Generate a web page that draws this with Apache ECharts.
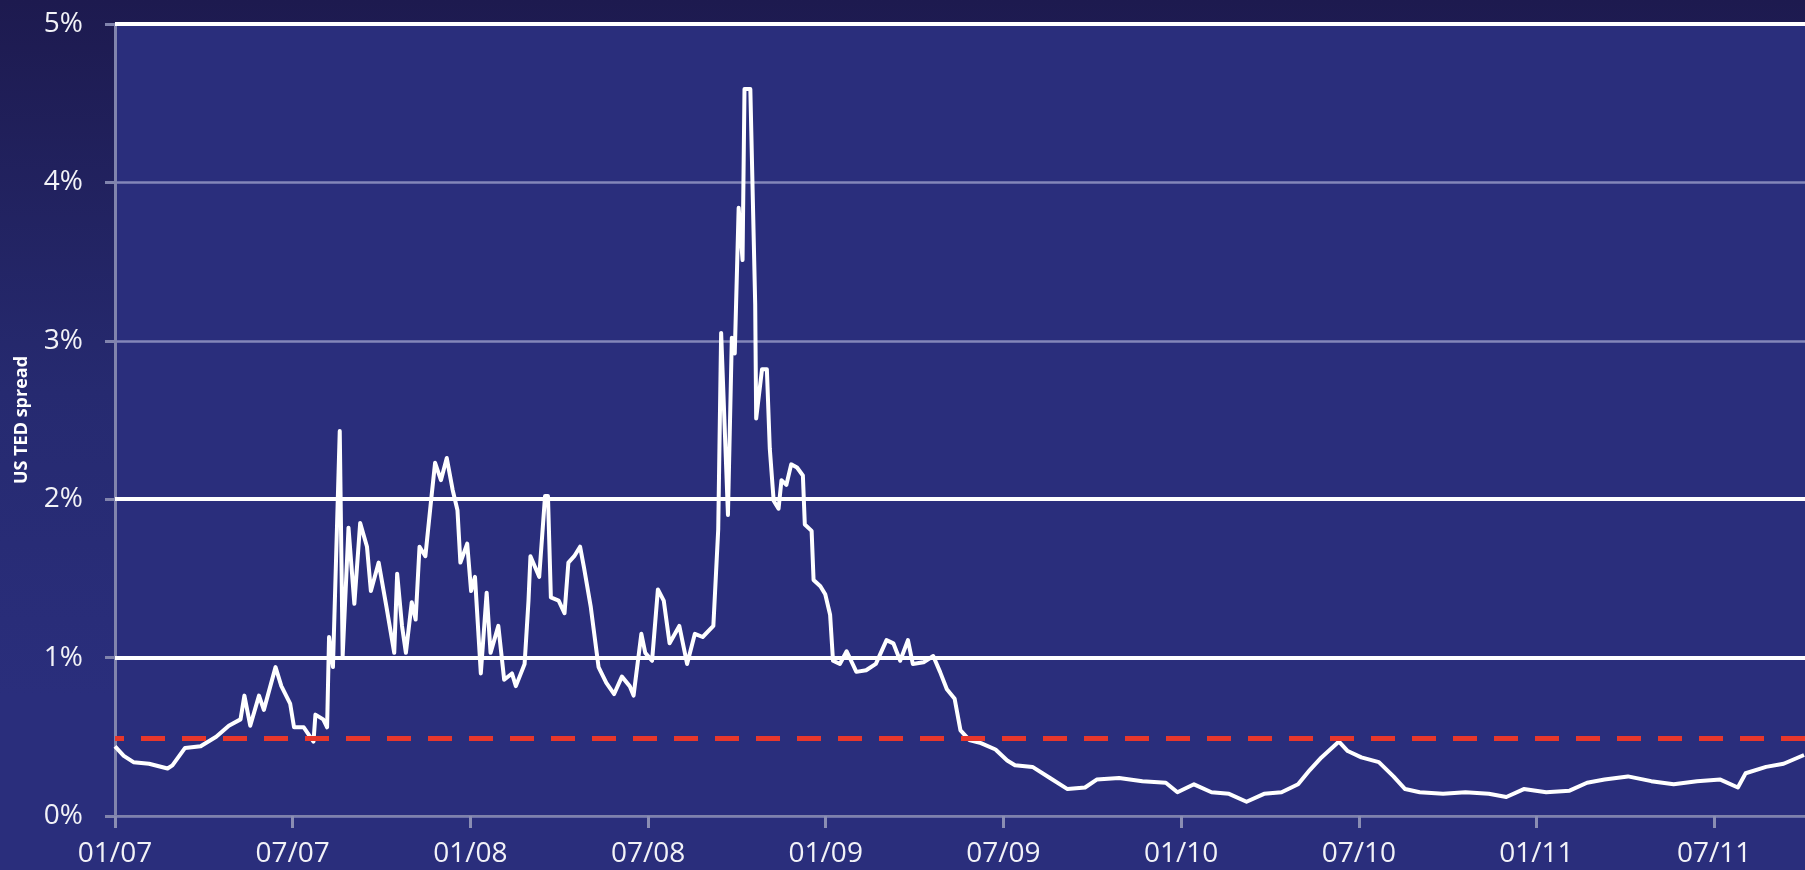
<!DOCTYPE html>
<html>
<head>
<meta charset="utf-8">
<script src="https://cdn.jsdelivr.net/npm/echarts@6/dist/echarts.min.js"></script>
<style>
html,body{margin:0;padding:0;width:1805px;height:870px;overflow:hidden;
background:linear-gradient(to bottom,#1d1a4f 0%,#262a70 45%,#2a2e7c 80%,#2a2e7c 100%);}
#c{width:1805px;height:870px;}
</style>
</head>
<body>
<div id="c"></div>
<script>
// ---- data ----
const dates = [
'2007-01-01','2007-01-10','2007-01-20','2007-02-05','2007-02-24','2007-03-01','2007-03-14','2007-03-30',
'2007-04-15','2007-04-28','2007-05-10','2007-05-14','2007-05-20','2007-05-29','2007-06-03','2007-06-15',
'2007-06-21','2007-06-30','2007-07-04','2007-07-14','2007-07-24','2007-07-26','2007-08-03','2007-08-07',
'2007-08-09','2007-08-13','2007-08-20','2007-08-23','2007-08-29','2007-09-04','2007-09-10','2007-09-17',
'2007-09-21','2007-09-29','2007-10-07','2007-10-15','2007-10-18','2007-10-23','2007-10-27','2007-11-02',
'2007-11-06','2007-11-10','2007-11-16','2007-11-22','2007-11-26','2007-12-02','2007-12-08','2007-12-14',
'2007-12-19','2007-12-22','2007-12-29','2008-01-02','2008-01-06','2008-01-12','2008-01-18','2008-01-22',
'2008-01-30','2008-02-05','2008-02-13','2008-02-17','2008-02-26','2008-03-01','2008-03-03','2008-03-12',
'2008-03-18','2008-03-21','2008-03-24','2008-04-01','2008-04-07','2008-04-11','2008-04-17','2008-04-23',
'2008-04-27','2008-05-04','2008-05-08','2008-05-12','2008-05-20','2008-05-28','2008-06-05','2008-06-13',
'2008-06-17','2008-06-25','2008-06-29','2008-07-06','2008-07-12','2008-07-18','2008-07-24','2008-08-03',
'2008-08-11','2008-08-19','2008-08-27','2008-09-07','2008-09-12','2008-09-15','2008-09-22','2008-09-26',
'2008-09-29','2008-10-03','2008-10-07','2008-10-09','2008-10-15','2008-10-16','2008-10-20','2008-10-21',
'2008-10-27','2008-11-01','2008-11-04','2008-11-08','2008-11-13','2008-11-16','2008-11-21','2008-11-26',
'2008-12-02','2008-12-08','2008-12-10','2008-12-17','2008-12-19','2008-12-26','2008-12-31','2009-01-05',
'2009-01-08','2009-01-15','2009-01-22','2009-02-01','2009-02-11','2009-02-21','2009-03-04','2009-03-11',
'2009-03-18','2009-03-26','2009-03-31','2009-04-11','2009-04-21','2009-04-28','2009-05-05','2009-05-13',
'2009-05-19','2009-05-28','2009-06-09','2009-06-24','2009-07-06','2009-07-14','2009-08-01','2009-08-19',
'2009-09-06','2009-09-24','2009-10-06','2009-10-29','2009-11-22','2009-12-16','2009-12-28','2010-01-14',
'2010-02-01','2010-02-19','2010-03-09','2010-03-27','2010-04-14','2010-05-01','2010-05-13','2010-05-25',
'2010-06-12','2010-06-21','2010-07-05','2010-07-23','2010-08-07','2010-08-19','2010-09-03','2010-09-27',
'2010-10-20','2010-11-13','2010-12-01','2010-12-19','2011-01-11','2011-02-04','2011-02-22','2011-03-12',
'2011-04-05','2011-04-29','2011-05-22','2011-06-15','2011-07-09','2011-07-27','2011-08-04','2011-08-25',
'2011-09-12','2011-10-03'
];
const spread = [
0.44,0.38,0.34,0.33,0.30,0.32,0.43,0.44,
0.50,0.57,0.61,0.76,0.57,0.76,0.67,0.94,
0.82,0.71,0.56,0.56,0.47,0.64,0.61,0.56,
1.13,0.94,2.43,1.01,1.82,1.34,1.85,1.70,
1.42,1.60,1.32,1.03,1.53,1.20,1.03,1.35,
1.24,1.70,1.64,2.00,2.23,2.12,2.26,2.06,
1.93,1.60,1.72,1.42,1.51,0.90,1.41,1.03,
1.20,0.86,0.90,0.82,0.96,1.36,1.64,1.51,
2.02,2.02,1.38,1.36,1.28,1.60,1.64,1.70,
1.57,1.32,1.13,0.94,0.84,0.77,0.88,0.82,
0.76,1.15,1.03,0.98,1.43,1.36,1.09,1.20,
0.96,1.15,1.13,1.20,1.81,3.05,1.90,3.02,
2.92,3.84,3.51,4.59,4.59,4.32,3.23,2.51,
2.82,2.82,2.32,1.99,1.94,2.12,2.09,2.22,
2.20,2.15,1.84,1.80,1.49,1.45,1.40,1.27,
0.98,0.96,1.04,0.91,0.92,0.96,1.11,1.09,
0.98,1.11,0.96,0.97,1.01,0.91,0.80,0.74,
0.54,0.48,0.46,0.42,0.35,0.32,0.31,0.24,
0.17,0.18,0.23,0.24,0.22,0.21,0.15,0.20,
0.15,0.14,0.09,0.14,0.15,0.20,0.29,0.37,
0.47,0.41,0.37,0.34,0.25,0.17,0.15,0.14,
0.15,0.14,0.12,0.17,0.15,0.16,0.21,0.23,
0.25,0.22,0.20,0.22,0.23,0.18,0.27,0.31,
0.33,0.385
];
const xStart = '2007-01-01';
const xEnd = '2011-10-04';
const halfYearDays = 182.625;       // tick step: Jan / Jul
const yTickPercents = [0, 1, 2, 3, 4, 5];
const strongGridPercents = [1, 2, 5];
const referenceLevel = 0.49;         // red dashed line
const yTitle = 'US TED spread';

// ---- helpers ----
const DAY = 86400000;
const t0 = Date.parse(xStart + 'T00:00:00Z');
const toDay = d => (Date.parse(d + 'T00:00:00Z') - t0) / DAY;
const seriesData = dates.map((d, i) => [toDay(d), spread[i]]);
function monthLabel(v) {
  const dt = new Date(t0 + v * DAY);
  let y = dt.getUTCFullYear(), m = dt.getUTCMonth();
  if (dt.getUTCDate() > 15) { m += 1; if (m > 11) { m = 0; y += 1; } }
  return String(m + 1).padStart(2, '0') + '/' + String(y % 100).padStart(2, '0');
}

const FONT = "'Open Sans', 'Liberation Sans', sans-serif";
const chart = echarts.init(document.getElementById('c'), null, {renderer: 'canvas'});
chart.setOption({
  animation: false,
  backgroundColor: 'transparent',
  grid: {left: 115, right: 0, top: 24, bottom: 54, show: true,
         backgroundColor: '#2a2e7c', borderWidth: 0, containLabel: false},
  xAxis: {
    type: 'value', min: 0, max: toDay(xEnd), interval: halfYearDays,
    axisLine: {show: true, onZero: false, lineStyle: {color: '#7e81ab', width: 2}},
    axisTick: {show: true, length: 12, lineStyle: {color: '#8a8db3', width: 3}},
    axisLabel: {formatter: monthLabel, showMaxLabel: false, showMinLabel: true,
                color: '#f2f2f7', fontSize: 28, fontFamily: FONT, margin: 24},
    splitLine: {show: false}
  },
  yAxis: {
    type: 'value', min: yTickPercents[0], max: yTickPercents[yTickPercents.length - 1], interval: 1,
    name: yTitle, nameLocation: 'middle', nameGap: 84, nameRotate: 90,
    nameTextStyle: {color: '#ffffff', fontWeight: 'bold', fontSize: 18, fontFamily: FONT},
    axisLine: {show: true, lineStyle: {color: '#8184ad', width: 3}},
    axisTick: {show: true, length: 10, lineStyle: {color: '#8184ad', width: 3}},
    axisLabel: {formatter: '{value}%', color: '#f2f2f7', fontSize: 28, fontFamily: FONT, margin: 32},
    splitLine: {show: true, lineStyle: {color: 'rgba(205,207,235,0.55)', width: 2.5}}
  },
  series: [
    {
      type: 'line', data: [], z: 1, silent: true,
      markLine: {
        silent: true, symbol: ['none', 'none'], label: {show: false},
        data: strongGridPercents.map(v => ({yAxis: v, lineStyle: {color: '#ffffff', width: 4, type: 'solid'}}))
          .concat([{yAxis: referenceLevel, lineStyle: {color: '#e8372b', width: 5, type: [24, 17], dashOffset: 15}}])
      }
    },
    {
      type: 'line', data: seriesData, z: 3, showSymbol: false, symbol: 'none',
      lineStyle: {color: '#ffffff', width: 4, join: 'round'}
    }
  ]
});
</script>
</body>
</html>
